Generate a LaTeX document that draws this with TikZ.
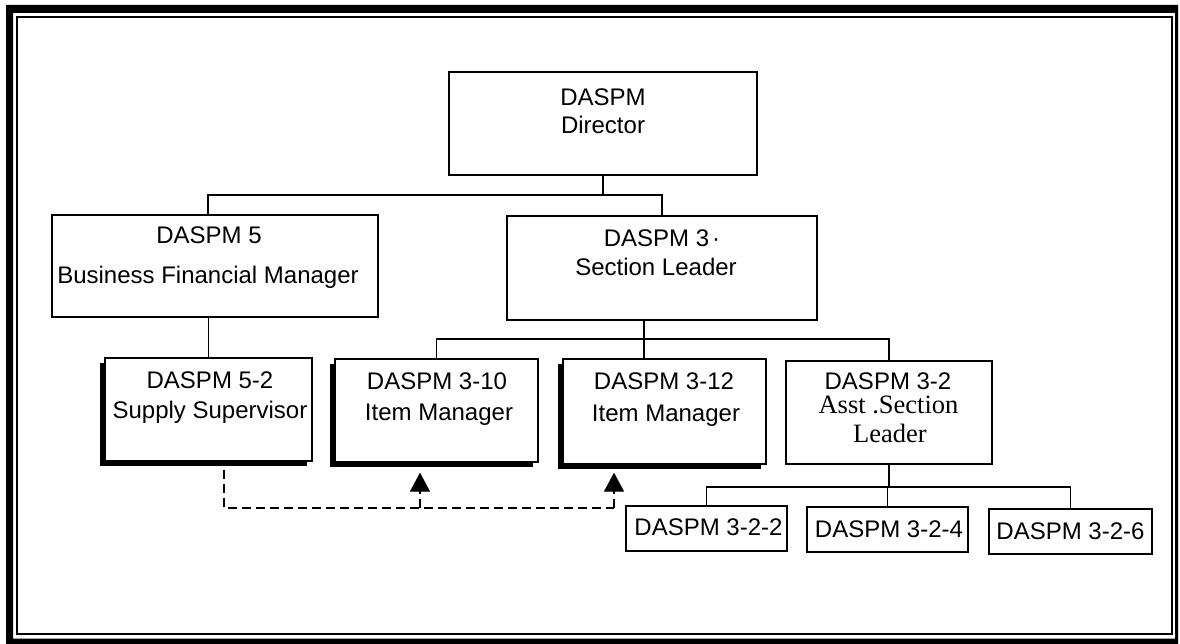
\documentclass[tikz,border=0pt]{standalone}
\usepackage{fontspec}
\setmainfont{Liberation Sans}
\newfontfamily\serifface{Liberation Serif}
\usetikzlibrary{arrows.meta,shadows}
\begin{document}
\begin{tikzpicture}[x=1pt,y=-1pt,
  box/.style={draw, line width=1.3pt, fill=white, inner sep=0pt},
  shbox/.style={box, drop shadow={shadow xshift=-5pt, shadow yshift=-5pt, fill=black, opacity=1}},
  conn/.style={line width=1.3pt},
  dconn/.style={line width=1.3pt, dash pattern=on 9pt off 5pt},
  lbl/.style={font=\fontsize{24}{28}\selectfont, anchor=base, inner sep=0pt},
  slbl/.style={font=\serifface\fontsize{26.5}{30}\selectfont, anchor=base, inner sep=0pt},
  tip/.style={-{Triangle[width=20pt,length=19pt,fill=black]}}]
\useasboundingbox (0,0) rectangle (1180,644);
% frame
\fill[even odd rule] (6,5) rectangle (1178,644) (13,13) rectangle (1175,638.5);
\draw[line width=1.2pt] (17,17) rectangle (1172,634);

% boxes
\node[box, minimum width=308pt, minimum height=103pt] (dir) at (603,123.5) {};
\node[box, minimum width=326pt, minimum height=102pt] (bfm) at (215,266) {};
\node[box, minimum width=310pt, minimum height=104pt] (s3) at (662,268) {};
\node[shbox, minimum width=207pt, minimum height=103pt] (s52) at (208.5,409.5) {};
\node[shbox, minimum width=203pt, minimum height=103pt] (s310) at (436.5,410.5) {};
\node[shbox, minimum width=203pt, minimum height=105pt] (s312) at (664.5,411.5) {};
\node[box, minimum width=206pt, minimum height=103pt] (s32) at (889,412.5) {};
\node[box, minimum width=161pt, minimum height=45pt] (s322) at (706.5,528.5) {};
\node[box, minimum width=161pt, minimum height=45pt] (s324) at (887.5,529.5) {};
\node[box, minimum width=163pt, minimum height=45pt] (s326) at (1070.5,531.5) {};

% texts
\node[lbl] (t1a) at (603,105.6) {DASPM};
\node[lbl] (t1b) at (603,133.6) {Director};
\node[lbl] (t2a) at (209,243.6) {DASPM 5};
\node[lbl] (t2b) at (208,283.6) {Business Financial Manager};
\node[lbl] (t3a) at (662,246.6) {DASPM 3\kern3pt·};
\node[lbl] (t3b) at (656,275.6) {Section Leader};
\node[lbl] (t4a) at (210,388.6) {DASPM 5-2};
\node[lbl] (t4b) at (210,418.6) {Supply Supervisor};
\node[lbl] (t5a) at (437,389.6) {DASPM 3-10};
\node[lbl] (t5b) at (439,420.6) {Item Manager};
\node[lbl] (t6a) at (664,389.6) {DASPM 3-12};
\node[lbl] (t6b) at (666,421.6) {Item Manager};
\node[lbl] (t7a) at (888,389) {DASPM 3-2};
\node[slbl] (t7b) at (888.5,413.5) {Asst .Section};
\node[slbl] (t7c) at (890,442) {Leader};
\node[lbl] (t8) at (708.5,535.6) {DASPM 3-2-2};
\node[lbl] (t9) at (889,537.6) {DASPM 3-2-4};
\node[lbl] (t10) at (1070.5,539.6) {DASPM 3-2-6};

% connectors
\coordinate (b1) at (0,195);
\coordinate (b2) at (0,339);
\coordinate (b3) at (0,487);
\coordinate (b4) at (0,508);
\coordinate (v3) at ([xshift=-18pt]s3.south);
\draw[conn] (dir.south) -- (dir.south |- b1);
\draw[conn] ([xshift=-7pt]bfm.north) -- ([xshift=-7pt]bfm.north |- b1) -- (s3.north |- b1) -- (s3.north);
\draw[conn] (bfm.south -| s52.north) -- (s52.north);
\draw[conn] (v3) -- (v3 |- s312.north);
\draw[conn] (s310.north) -- (s310.north |- b2) -- (s32.north |- b2) -- (s32.north);
\draw[conn] (s32.south) -- (s32.south |- b3);
\draw[conn] (s322.north) -- (s322.north |- b3) -- (s326.north |- b3) -- (s326.north);
\draw[conn] (s324.north) -- (s324.north |- b3);

% dashed
\coordinate (d0) at ([xshift=15.5pt,yshift=-8pt]s52.south);
\coordinate (a1) at ([xshift=-16.5pt,yshift=-10pt]s310.south);
\coordinate (a2) at ([xshift=-50.5pt,yshift=-8pt]s312.south);
\draw[dconn] (d0) -- (d0 |- b4) -- (a2 |- b4);
\draw[dconn, tip] (a1 |- b4) -- (a1);
\draw[dconn, tip] (a2 |- b4) -- (a2);
\end{tikzpicture}
\end{document}
